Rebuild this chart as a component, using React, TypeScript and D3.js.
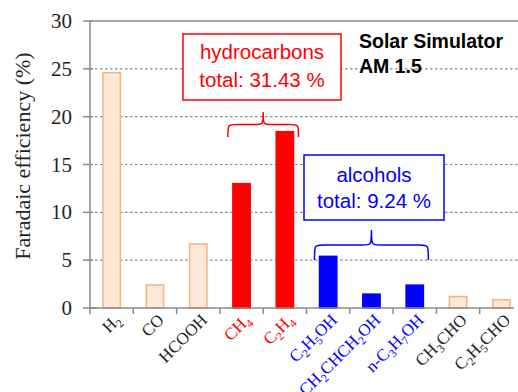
import { useEffect, useRef } from 'react'
import * as d3 from 'd3'

const categories = ['H2', 'CO', 'HCOOH', 'CH4', 'C2H4', 'C2H5OH', 'CH2CHCH2OH', 'n-C3H7OH', 'CH3CHO', 'C2H5CHO']
const values = [24.6, 2.4, 6.7, 13.0, 18.43, 5.4, 1.45, 2.39, 1.2, 0.87]
const groups = ['other', 'other', 'other', 'hc', 'hc', 'alc', 'alc', 'alc', 'other', 'other']
const yTicks = [0, 5, 10, 15, 20, 25, 30]

const fillColor: Record<string, string> = { other: '#fde7d6', hc: '#ff0000', alc: '#0000ff' }
const strokeColor: Record<string, string> = { other: '#f9b27c', hc: '#ff0000', alc: '#0000ff' }
const labelColor: Record<string, string> = { other: '#222', hc: '#ff0000', alc: '#0000ff' }

const W = 518
const H = 392

// horizontal curly brace, tip pointing up
const brace = (x1: number, x2: number, yTip: number, yEnd: number) => {
  const xm = (x1 + x2) / 2
  const ymid = (yTip + yEnd) / 2
  const q = 9
  return `M${x1},${yEnd} C${x1},${ymid} ${x1},${ymid} ${x1 + q},${ymid} L${xm - q},${ymid} C${xm},${ymid} ${xm},${ymid} ${xm},${yTip} C${xm},${ymid} ${xm},${ymid} ${xm + q},${ymid} L${x2 - q},${ymid} C${x2},${ymid} ${x2},${ymid} ${x2},${yEnd}`
}

const App = () => {
  const ref = useRef<SVGSVGElement>(null)

  useEffect(() => {
    const svg = d3.select(ref.current)
    svg.selectAll('*').remove()

    const x = d3.scaleBand().domain(categories).range([90, 523]).paddingInner(0.6).paddingOuter(0.3)
    const y = d3.scaleLinear().domain([0, 30]).range([308, 21])
    const left = 90
    const serif = '"Liberation Serif", "Times New Roman", serif'
    const sans = '"Liberation Sans", Arial, sans-serif'

    // gridlines
    svg.append('g')
      .selectAll('line')
      .data(yTicks.filter((d) => d > 0 && d < 30))
      .enter()
      .append('line')
      .attr('x1', left)
      .attr('x2', W)
      .attr('y1', (d) => y(d))
      .attr('y2', (d) => y(d))
      .attr('stroke', '#8a8a8a')
      .attr('stroke-width', 1.2)
      .attr('stroke-dasharray', '2.5,2.5')

    svg.append('line')
      .attr('x1', left).attr('x2', W)
      .attr('y1', y(30)).attr('y2', y(30))
      .attr('stroke', '#8a8a8a').attr('stroke-width', 1.5)

    // bars
    svg.append('g')
      .selectAll('rect')
      .data(categories)
      .enter()
      .append('rect')
      .attr('x', (d) => x(d)!)
      .attr('width', x.bandwidth())
      .attr('y', (d, i) => y(values[i]))
      .attr('height', (d, i) => y(0) - y(values[i]))
      .attr('fill', (d, i) => fillColor[groups[i]])
      .attr('stroke', (d, i) => strokeColor[groups[i]])
      .attr('stroke-width', 1.5)

    // y axis
    svg.append('line')
      .attr('x1', left).attr('x2', left)
      .attr('y1', y(30)).attr('y2', y(0))
      .attr('stroke', '#8a8a8a').attr('stroke-width', 1.5)
    svg.append('g')
      .selectAll('line')
      .data(yTicks)
      .enter()
      .append('line')
      .attr('x1', 83)
      .attr('x2', (d) => (d === 0 ? 97 : 93))
      .attr('y1', (d) => y(d))
      .attr('y2', (d) => y(d))
      .attr('stroke', '#8a8a8a').attr('stroke-width', 1.5)
    svg.append('g')
      .selectAll('text')
      .data(yTicks)
      .enter()
      .append('text')
      .attr('x', 72)
      .attr('y', (d) => y(d) + 7)
      .attr('text-anchor', 'end')
      .attr('font-family', serif)
      .attr('font-size', 21)
      .attr('fill', '#222')
      .text((d) => d)

    // x axis
    const step = x.step()
    svg.append('line')
      .attr('x1', left).attr('x2', 514)
      .attr('y1', y(0)).attr('y2', y(0))
      .attr('stroke', '#8a8a8a').attr('stroke-width', 1.5)
    svg.append('g')
      .selectAll('line')
      .data(categories)
      .enter()
      .append('line')
      .attr('x1', (d, i) => left + i * step)
      .attr('x2', (d, i) => left + i * step)
      .attr('y1', y(0))
      .attr('y2', y(0) + 6)
      .attr('stroke', '#8a8a8a').attr('stroke-width', 1.5)

    const labels = svg.append('g')
      .selectAll('text')
      .data(categories)
      .enter()
      .append('text')
      .attr('transform', (d) => `translate(${x(d)! + x.bandwidth() / 2 + 10},${y(0) + 13}) rotate(-45)`)
      .attr('text-anchor', 'end')
      .attr('font-family', serif)
      .attr('font-size', 17)
      .attr('fill', (d, i) => labelColor[groups[i]])
    labels.each(function (d) {
      const t = d3.select(this)
      const parts = d.match(/\d+|\D+/g) || []
      parts.forEach((p) => {
        if (/\d/.test(p)) {
          t.append('tspan').attr('font-size', 11.5).attr('dy', 4).text(p)
          t.append('tspan').attr('dy', -4).text('\u200b')
        } else {
          t.append('tspan').text(p)
        }
      })
    })

    // y label
    svg.append('text')
      .attr('transform', 'translate(30,156) rotate(-90)')
      .attr('text-anchor', 'middle')
      .attr('font-family', serif)
      .attr('font-size', 22)
      .attr('fill', '#222')
      .text('Faradaic efficiency (%)')

    // hydrocarbons box
    svg.append('rect')
      .attr('x', 183).attr('y', 34).attr('width', 158).attr('height', 66)
      .attr('fill', '#fff').attr('stroke', '#ff0000').attr('stroke-width', 1.5)
    svg.append('text')
      .attr('x', 262).attr('y', 59).attr('text-anchor', 'middle')
      .attr('font-family', sans).attr('font-size', 20.5).attr('fill', '#ff0000')
      .text('hydrocarbons')
    svg.append('text')
      .attr('x', 262).attr('y', 87).attr('text-anchor', 'middle')
      .attr('font-family', sans).attr('font-size', 20.5).attr('fill', '#ff0000')
      .text('total: 31.43 %')
    svg.append('path')
      .attr('d', brace(x('CH4')! - 5, x('C2H4')! + x.bandwidth() + 5, 112, 137))
      .attr('fill', 'none').attr('stroke', '#ff0000').attr('stroke-width', 1.5)

    // alcohols box
    svg.append('rect')
      .attr('x', 304).attr('y', 155).attr('width', 140).attr('height', 65)
      .attr('fill', '#fff').attr('stroke', '#0000ff').attr('stroke-width', 1.5)
    svg.append('text')
      .attr('x', 374).attr('y', 182).attr('text-anchor', 'middle')
      .attr('font-family', sans).attr('font-size', 20.5).attr('fill', '#0000ff')
      .text('alcohols')
    svg.append('text')
      .attr('x', 374).attr('y', 208).attr('text-anchor', 'middle')
      .attr('font-family', sans).attr('font-size', 20.5).attr('fill', '#0000ff')
      .text('total: 9.24 %')
    svg.append('path')
      .attr('d', brace(x('C2H5OH')! - 5, x('n-C3H7OH')! + x.bandwidth() + 5, 230, 260))
      .attr('fill', 'none').attr('stroke', '#0000ff').attr('stroke-width', 1.5)

    // condition text
    svg.append('text')
      .attr('x', 359).attr('y', 48)
      .attr('font-family', sans).attr('font-size', 19.5).attr('font-weight', 'bold').attr('fill', '#000')
      .text('Solar Simulator')
    svg.append('text')
      .attr('x', 359).attr('y', 73)
      .attr('font-family', sans).attr('font-size', 19.5).attr('font-weight', 'bold').attr('fill', '#000')
      .text('AM 1.5')
  }, [])

  return (
    <svg
      ref={ref}
      width={W}
      height={H}
      style={{ position: 'absolute', left: 0, top: 0, background: '#fff' }}
    />
  )
}

export default App
